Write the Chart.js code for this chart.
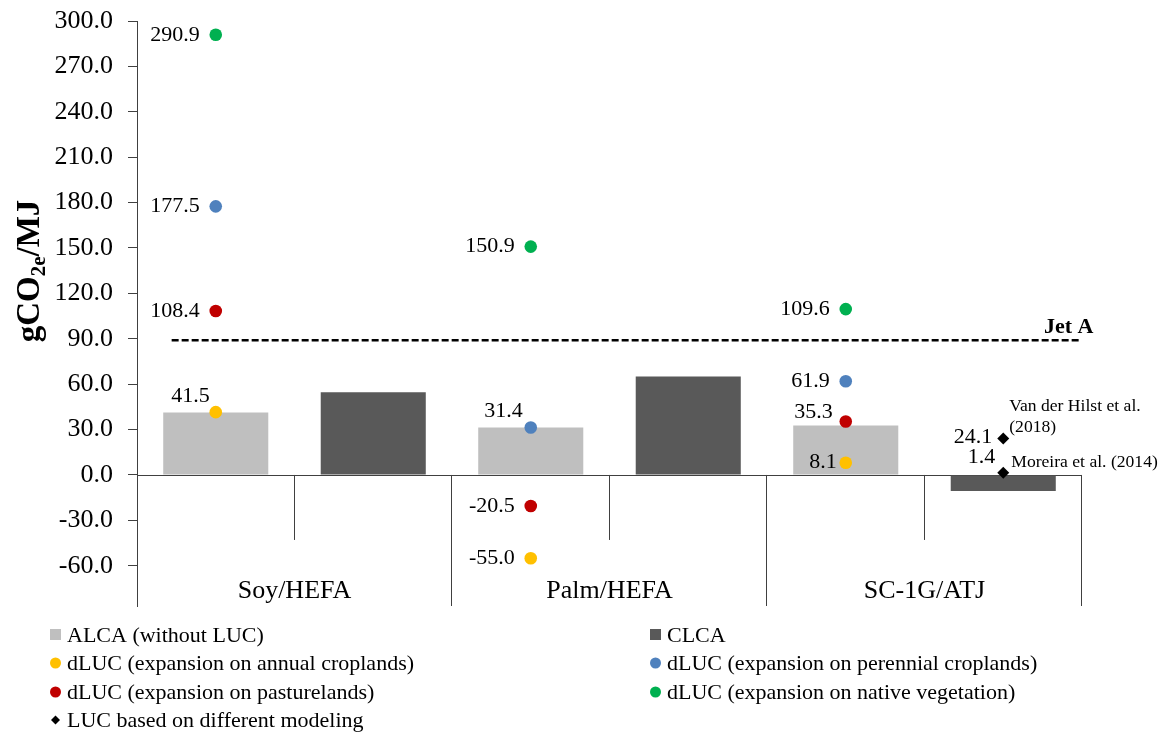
<!DOCTYPE html>
<html>
<head>
<meta charset="utf-8">
<script src="https://cdn.jsdelivr.net/npm/chart.js@4/dist/chart.umd.min.js"></script>
<style>
  html, body { margin: 0; padding: 0; background: #fff; }
  #wrap { position: relative; width: 1162px; height: 736px; }
</style>
</head>
<body>
<div id="wrap"><canvas id="c" width="1162" height="736"></canvas></div>
<script>
// ---- data (gCO2e/MJ) ----
const categories = ['Soy/HEFA', 'Palm/HEFA', 'SC-1G/ATJ'];
const alca = [41.3, 31.3, 32.7];
const clca = [54.7, 65.0, -10.6];
const dlucAnnual = [41.5, -55.0, 8.1];
const dlucPerennial = [177.5, 31.4, 61.9];
const dlucPasture = [108.4, -20.5, 35.3];
const dlucNative = [290.9, 150.9, 109.6];
const lucModeling = [24.1, 1.4];
const lucSources = [['Van der Hilst et al.', '(2018)'], ['Moreira et al. (2014)']];
const jetA = 89.0;
const jetASpan = [0.22, 5.99];
const yTicks = [-60, -30, 0, 30, 60, 90, 120, 150, 180, 210, 240, 270, 300];

// ---- styling ----
const SERIF = "'Liberation Serif', 'Times New Roman', serif";
const C_ALCA = '#BFBFBF', C_CLCA = '#595959';
const C_YEL = '#FFC000', C_BLU = '#4F81BD', C_RED = '#C00000', C_GRN = '#00B050';
const LINE = '#404040';

// each category has two slots: ALCA and CLCA
const slotLabels = categories.flatMap(c => [c + ' ALCA', c + ' CLCA']);
const alcaSlot = i => categories[i] + ' ALCA';
const clcaSlot = i => categories[i] + ' CLCA';
const onAlca = arr => arr.map((v, i) => ({ x: alcaSlot(i), y: v }));

// label offsets [dx, dy] from each marker; text is right-aligned at dx
const labelOffsets = {
  annual:    [[-6, -16], [-16, 0], [-9, 0]],
  perennial: [[-16, 0], [-8, -16], [-16, 0]],
  pasture:   [[-16, 0], [-16, 0], [-13, -9]],
  native:    [[-16, 0], [-16, 0], [-16, 0]],
  luc:       [[-11, -1], [-8, -16]]
};

function pointSet(key, label, values, color) {
  return {
    type: 'line', key, label, data: onAlca(values), showLine: false,
    backgroundColor: color, borderColor: color, pointRadius: 6.3, pointBorderWidth: 0,
    pointStyle: 'circle', order: 1
  };
}

const datasets = [
  { type: 'bar', key: 'alca', label: 'ALCA (without LUC)', data: onAlca(alca),
    backgroundColor: C_ALCA, order: 3, grouped: false, barPercentage: 0.667, categoryPercentage: 1 },
  { type: 'bar', key: 'clca', label: 'CLCA', data: clca.map((v, i) => ({ x: clcaSlot(i), y: v })),
    backgroundColor: C_CLCA, order: 3, grouped: false, barPercentage: 0.667, categoryPercentage: 1 },
  pointSet('annual', 'dLUC (expansion on annual croplands)', dlucAnnual, C_YEL),
  pointSet('perennial', 'dLUC (expansion on perennial croplands)', dlucPerennial, C_BLU),
  pointSet('pasture', 'dLUC (expansion on pasturelands)', dlucPasture, C_RED),
  pointSet('native', 'dLUC (expansion on native vegetation)', dlucNative, C_GRN),
  { type: 'line', key: 'luc', label: 'LUC based on different modeling',
    data: lucModeling.map(v => ({ x: clcaSlot(2), y: v })), showLine: false,
    backgroundColor: '#000', borderColor: '#000', pointStyle: 'rectRot', pointRadius: 6, pointBorderWidth: 0, order: 1 },
  { type: 'line', key: 'jet', label: 'Jet A', xAxisID: 'xj',
    data: jetASpan.map(x => ({ x, y: jetA })), borderColor: '#000', borderWidth: 2.5,
    borderDash: [7, 3], pointRadius: 0, fill: false, order: 2 }
];

const legendOrder = ['alca', 'clca', 'annual', 'perennial', 'pasture', 'native', 'luc'];

const overlay = {
  id: 'overlay',
  beforeDatasetsDraw(chart) {
    const { ctx, chartArea: a, scales: { x, y } } = chart;
    const y0 = y.getPixelForValue(0);
    const slotW = (a.right - a.left) / slotLabels.length;
    ctx.save();
    ctx.strokeStyle = LINE; ctx.lineWidth = 1;
    ctx.beginPath();
    ctx.moveTo(a.left, Math.round(y0) + 0.5); ctx.lineTo(a.right, Math.round(y0) + 0.5);
    for (let k = 1; k <= slotLabels.length; k++) {
      const px = Math.round(a.left + k * slotW) - 0.5;
      const end = (k % 2 === 0) ? a.bottom : y0 + 65;
      ctx.moveTo(px, y0); ctx.lineTo(px, end);
    }
    ctx.stroke();
    ctx.restore();
  },
  afterDatasetsDraw(chart) {
    const { ctx, chartArea: a, scales: { x, y } } = chart;
    ctx.save();
    ctx.fillStyle = '#000';
    ctx.textBaseline = 'middle';

    // value labels next to markers
    ctx.font = '22px ' + SERIF;
    ctx.textAlign = 'right';
    chart.data.datasets.forEach((ds, di) => {
      const offs = labelOffsets[ds.key];
      if (!offs) return;
      chart.getDatasetMeta(di).data.forEach((pt, i) => {
        const v = ds.data[i].y;
        ctx.fillText(v.toFixed(1), pt.x + offs[i][0], pt.y + offs[i][1]);
      });
    });

    // source notes beside the modeled LUC markers
    const lucIdx = chart.data.datasets.findIndex(d => d.key === 'luc');
    const lucPts = chart.getDatasetMeta(lucIdx).data;
    ctx.font = '17.6px ' + SERIF;
    ctx.textAlign = 'left';
    ctx.fillText(lucSources[0][0], lucPts[0].x + 6, lucPts[0].y - 32);
    ctx.fillText(lucSources[0][1], lucPts[0].x + 6, lucPts[0].y - 11);
    ctx.fillText(lucSources[1][0], lucPts[1].x + 8, lucPts[1].y - 10);

    // Jet A reference label
    const jIdx = chart.data.datasets.findIndex(d => d.key === 'jet');
    const jPts = chart.getDatasetMeta(jIdx).data;
    ctx.font = 'bold 22px ' + SERIF;
    ctx.textAlign = 'right';
    ctx.fillText('Jet A', jPts[1].x + 13, jPts[1].y - 13);

    // category labels
    ctx.font = '26px ' + SERIF;
    ctx.textAlign = 'center';
    categories.forEach((c, i) => {
      const cx = (x.getPixelForValue(2 * i) + x.getPixelForValue(2 * i + 1)) / 2;
      ctx.fillText(c, cx, a.bottom - 15);
    });
    ctx.restore();
  },
  afterDraw(chart) {
    const { ctx } = chart;
    ctx.save();
    // y-axis title with subscript
    ctx.translate(29, 271);
    ctx.rotate(-Math.PI / 2);
    ctx.fillStyle = '#000';
    ctx.textBaseline = 'alphabetic';
    const big = 'bold 33px ' + SERIF, small = 'bold 21px ' + SERIF;
    const parts = [['gCO', big, 0], ['2e', small, 6], ['/MJ', big, 0]];
    let total = 0;
    parts.forEach(p => { ctx.font = p[1]; total += ctx.measureText(p[0]).width; });
    let cx = -total / 2;
    parts.forEach(p => { ctx.font = p[1]; ctx.fillText(p[0], cx, 10 + p[2]); cx += ctx.measureText(p[0]).width; });
    ctx.restore();

    // legend, two columns
    ctx.save();
    ctx.textBaseline = 'middle';
    ctx.textAlign = 'left';
    ctx.font = '22px ' + SERIF;
    const colX = [50, 650], rowY = [635, 663, 692, 720];
    legendOrder.forEach((key, n) => {
      const ds = chart.data.datasets.find(d => d.key === key);
      const mx = colX[n % 2], my = rowY[Math.floor(n / 2)];
      ctx.fillStyle = ds.backgroundColor;
      if (ds.type === 'bar') {
        ctx.fillRect(mx, my - 6, 11, 11);
      } else {
        Chart.helpers.drawPoint(ctx, { pointStyle: ds.pointStyle, rotation: 0, radius: ds.pointStyle === 'rectRot' ? 4.5 : 5.5, borderWidth: 0 }, mx + 5.5, my);
      }
      ctx.fillStyle = '#000';
      ctx.fillText(ds.label, mx + 17, my + 1);
    });
    ctx.restore();
  }
};

Chart.defaults.font.family = SERIF;

new Chart(document.getElementById('c'), {
  data: { labels: slotLabels, datasets },
  options: {
    responsive: false,
    animation: false,
    events: [],
    layout: { padding: { left: 0, right: 80, top: 21, bottom: 130 } },
    plugins: { legend: { display: false }, tooltip: { enabled: false } },
    scales: {
      x: { type: 'category', labels: slotLabels, display: false, offset: true },
      xj: { type: 'linear', min: 0, max: 6, display: false },
      y: {
        min: -86.6, max: 300,
        afterBuildTicks: s => { s.ticks = yTicks.map(v => ({ value: v })); },
        afterFit: s => { s.width = 137; s.paddingTop = 0; s.paddingBottom = 0; },
        border: { display: true, color: LINE, width: 1 },
        grid: { display: true, drawOnChartArea: false, drawTicks: true, tickLength: 9, color: LINE },
        ticks: { padding: 15, color: '#000', font: { family: SERIF, size: 26 }, callback: v => v.toFixed(1) }
      }
    }
  },
  plugins: [overlay]
});
</script>
</body>
</html>
